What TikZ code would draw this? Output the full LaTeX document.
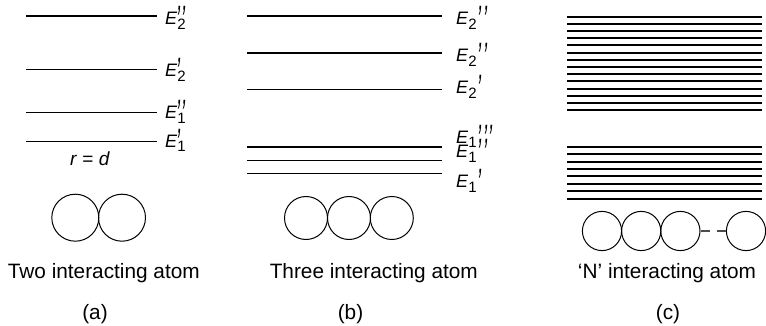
\documentclass[tikz,border=0pt]{standalone}
\usepackage{fontspec}
\usepackage{graphicx}
\setmainfont{Liberation Sans}
\newcommand\subsz{\fontsize{15}{15}\selectfont}
\newcommand\pq{\char"27}
\newcommand\prm[1]{\raisebox{-9pt}{\fontsize{18}{18}\selectfont\scalebox{1}[2.2]{\textit{#1}}}}
\newcommand\Ea[2]{\textit{E}\makebox[0pt][l]{\kern-0.5pt\prm{#1}}\raisebox{-0.25em}{\subsz #2}}
\newcommand\Eb[2]{\textit{E}\raisebox{-0.25em}{\subsz #1}\kern1pt\prm{#2}}
\begin{document}
\begin{tikzpicture}[x=1pt,y=-1pt,
  lvl/.style={line width=1.5pt},
  band/.style={line width=2pt},
  atom/.style={draw,line width=1pt},
  elab/.style={anchor=base west,inner sep=0pt,font=\fontsize{18}{20}\selectfont},
  capt/.style={anchor=base,inner sep=0pt,font=\fontsize{20.8}{24}\selectfont}]
\useasboundingbox (0,0) rectangle (766,326);
% ---- panel (a)
\foreach \y/\n in {16/a1,69.5/a2,112.5/a3,141.3/a4}{
  \coordinate (\n l) at (26,\y); \coordinate (\n r) at (157,\y);
  \draw[lvl] (\n l) -- (\n r);}
\node[elab] (la1) at (165,25) {\Ea{\pq\kern0.6pt\pq}{2}};
\node[elab] (la2) at (165,77) {\Ea{\pq}{2}};
\node[elab] (la3) at (165,119) {\Ea{\pq\kern0.6pt\pq}{1}};
\node[elab] (la4) at (165,147.3) {\Ea{\pq}{1}};
\node[anchor=base,inner sep=0pt,font=\fontsize{19}{22}\selectfont] (rd) at (90,165.5) {\textit{r} = \textit{d}};
\node[atom,circle,minimum size=47pt,inner sep=0pt] (ca1) at (75.3,217.7) {};
\node[atom,circle,minimum size=47pt,inner sep=0pt] (ca2) at (122,217.7) {};
% ---- panel (b)
\foreach \y/\n in {16/b1,53/b2,89.3/b3,147/b4,160.7/b5,173.7/b6}{
  \coordinate (\n l) at (247,\y); \coordinate (\n r) at (442,\y);
  \draw[lvl] (\n l) -- (\n r);}
\node[elab] (lb1) at (456,25) {\Eb{2}{\pq\kern1.5pt\pq}};
\node[elab] (lb2) at (456,62) {\Eb{2}{\pq\kern1.5pt\pq}};
\node[elab] (lb3) at (456,94) {\Eb{2}{\pq}};
\node[elab] (lb4) at (456,143.5) {\Eb{1}{\pq\kern1.5pt\pq\kern1.5pt\pq}};
\node[elab] (lb5) at (456,158) {\Eb{1}{\pq\kern1.5pt\pq}};
\node[elab] (lb6) at (456,188) {\Eb{1}{\pq}};
\node[atom,circle,minimum size=43pt,inner sep=0pt] (cb1) at (306,218) {};
\node[atom,circle,minimum size=43pt,inner sep=0pt] (cb2) at (349,218) {};
\node[atom,circle,minimum size=43pt,inner sep=0pt] (cb3) at (391.8,218) {};
% ---- panel (c)
\foreach \i in {0,...,13}{
  \draw[band] (567.3,16.7+7.2*\i) -- (761.7,16.7+7.2*\i);}
\foreach \i in {0,...,7}{
  \draw[band] (567.3,146.7+7.43*\i) -- (761.7,146.7+7.43*\i);}
\node[atom,circle,minimum size=39.2pt,inner sep=0pt] (cc1) at (602,231) {};
\node[atom,circle,minimum size=39.2pt,inner sep=0pt] (cc2) at (641.2,231) {};
\node[atom,circle,minimum size=39.2pt,inner sep=0pt] (cc3) at (680.4,231) {};
\node[atom,circle,minimum size=39.2pt,inner sep=0pt] (cc4) at (746,231) {};
\coordinate (d1) at (710,231); \coordinate (d2) at (716.7,231);
\draw[line width=1.5pt,black!70] (cc3.east) -- (d1);
\draw[line width=1.5pt,black!70] (d2) -- (cc4.west);
% ---- captions
\node[capt] (ta) at (103.8,278) {Two interacting atom};
\node[capt] (tb) at (373.8,278) {Three interacting atom};
\node[capt] (tc) at (667,278) {‘N’ interacting atom};
\node[capt] (pa) at (95,319) {(a)};
\node[capt] (pb) at (350.5,319) {(b)};
\node[capt] (pc) at (668,319) {(c)};
\end{tikzpicture}
\end{document}
